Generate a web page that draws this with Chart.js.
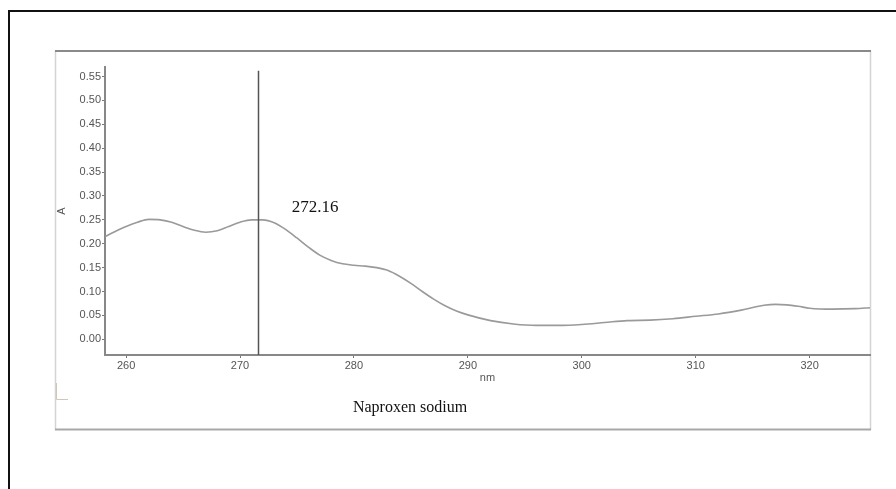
<!DOCTYPE html>
<html>
<head>
<meta charset="utf-8">
<script src="https://cdn.jsdelivr.net/npm/chart.js@4/dist/chart.umd.min.js"></script>
<style>
html,body{margin:0;padding:0;background:#fff;}
#wrap{position:relative;width:896px;height:489px;}
</style>
</head>
<body>
<div id="wrap"><canvas id="c" width="896" height="489"></canvas></div>
<script>
// Wavelength (nm) and absorbance
const wavelengths = [258.15,259,260,261,262,263,264,265,266,267,268,269,270,271,272,273,274,275,276,277,278,279,280,281,282,283,284,285,286,287,288,289,290,292,294,296,298,300,302,304,306,308,310,312,314,316,317,318,319,320,322,324,325.3];
const absorbance = [0.215,0.225,0.236,0.245,0.251,0.250,0.245,0.236,0.228,0.224,0.227,0.236,0.245,0.250,0.250,0.244,0.230,0.212,0.193,0.176,0.165,0.158,0.155,0.153,0.150,0.144,0.132,0.117,0.100,0.084,0.070,0.059,0.051,0.039,0.032,0.029,0.029,0.031,0.035,0.039,0.040,0.043,0.048,0.053,0.061,0.071,0.073,0.072,0.069,0.065,0.063,0.064,0.066];
const xTickValues = [260,270,280,290,300,310,320];
const yTickValues = [0.00,0.05,0.10,0.15,0.20,0.25,0.30,0.35,0.40,0.45,0.50,0.55];
const markerNm = 271.6;
const markerLabel = "272.16";
const sampleName = "Naproxen sodium";
const xTitle = "nm";
const yTitle = "A";

const points = wavelengths.map((w,i)=>({x:w,y:absorbance[i]}));

const framePlugin = {
  id:'frame',
  beforeDraw(chart){
    const ctx = chart.ctx;
    ctx.save();
    ctx.fillStyle='#fff';
    ctx.fillRect(0,0,chart.width,chart.height);
    // outer black border
    ctx.strokeStyle='#111';
    ctx.lineWidth=2;
    ctx.strokeRect(9,11,900,500);
    // inner panel
    ctx.strokeStyle='#d4d4d4';
    ctx.lineWidth=1.5;
    ctx.beginPath();
    ctx.moveTo(55.5,51); ctx.lineTo(55.5,430);
    ctx.moveTo(870.5,51); ctx.lineTo(870.5,430);
    ctx.stroke();
    ctx.strokeStyle='#8a8a8a';
    ctx.lineWidth=2;
    ctx.beginPath();
    ctx.moveTo(55,51); ctx.lineTo(871,51);
    ctx.stroke();
    ctx.strokeStyle='#a8a8a8';
    ctx.beginPath();
    ctx.moveTo(55,429.5); ctx.lineTo(871,429.5);
    ctx.stroke();
    // faint bracket marks
    ctx.strokeStyle='#cfc8b8';
    ctx.lineWidth=1;
    ctx.beginPath();
    ctx.moveTo(56.5,383); ctx.lineTo(56.5,399.5); ctx.lineTo(68,399.5);
    ctx.stroke();
    ctx.restore();
  },
  afterDraw(chart){
    const ctx = chart.ctx;
    const xs = chart.scales.x, ys = chart.scales.y;
    ctx.save();
    // marker vertical line
    const mx = Math.round(xs.getPixelForValue(markerNm))+0.5;
    ctx.strokeStyle='#555';
    ctx.lineWidth=1.5;
    ctx.beginPath();
    ctx.moveTo(mx, ys.getPixelForValue(0.562));
    ctx.lineTo(mx, chart.chartArea.bottom);
    ctx.stroke();
    // marker label
    ctx.fillStyle='#111';
    ctx.font='17px "Liberation Serif", serif';
    ctx.textAlign='left';
    ctx.textBaseline='middle';
    ctx.fillText(markerLabel, xs.getPixelForValue(274.55), ys.getPixelForValue(0.275));
    // sample name
    ctx.font='16px "Liberation Serif", serif';
    ctx.textAlign='center';
    ctx.fillText(sampleName, 410, 408);
    ctx.restore();
  }
};

new Chart(document.getElementById('c'), {
  type:'line',
  data:{datasets:[{
    data:points,
    borderColor:'#9a9a9a',
    borderWidth:1.6,
    pointRadius:0,
    tension:0.4,
    cubicInterpolationMode:'monotone',
    fill:false
  }]},
  options:{
    responsive:false,
    animation:false,
    devicePixelRatio:1,
    layout:{padding:{left:55,top:67,right:26,bottom:104}},
    plugins:{legend:{display:false},tooltip:{enabled:false}},
    scales:{
      x:{
        type:'linear',
        min:258.15,max:325.3,
        afterFit(s){s.height=30;},
        afterBuildTicks(s){s.ticks = xTickValues.map(v=>({value:v}));},
        ticks:{font:{family:'"Liberation Sans", sans-serif',size:11},color:'#555',padding:1,maxRotation:0,autoSkip:false},
        grid:{drawOnChartArea:false,drawTicks:true,tickLength:3,color:'#777',tickColor:'#777'},
        border:{color:'#888',width:2},
        title:{display:true,text:xTitle,font:{family:'"Liberation Sans", sans-serif',size:11},color:'#555',padding:{top:0,bottom:0}}
      },
      y:{
        type:'linear',
        min:-0.033,max:0.57,
        afterFit(s){s.width=50;},
        afterBuildTicks(s){s.ticks = yTickValues.map(v=>({value:v}));},
        ticks:{font:{family:'"Liberation Sans", sans-serif',size:11},color:'#555',padding:1,callback:v=>v.toFixed(2)},
        grid:{drawOnChartArea:false,drawTicks:true,tickLength:3,color:'#777',tickColor:'#777'},
        border:{color:'#888',width:2},
        title:{display:true,text:yTitle,font:{family:'"Liberation Sans", sans-serif',size:11},color:'#555',padding:{top:0,bottom:0}}
      }
    }
  },
  plugins:[framePlugin]
});
</script>
</body>
</html>
